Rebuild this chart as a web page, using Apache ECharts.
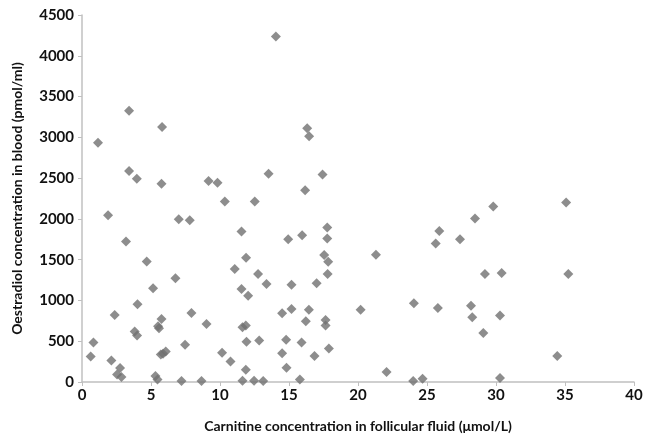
<!DOCTYPE html>
<html>
<head>
<meta charset="utf-8">
<script src="https://cdn.jsdelivr.net/npm/echarts@6/dist/echarts.min.js"></script>
<style>
  html, body { margin: 0; padding: 0; background: #fff; }
  #main { width: 646px; height: 438px; }
</style>
</head>
<body>
<div id="main"></div>
<script>
// carnitine in follicular fluid (umol/L)
var carnitine = [
  1.16, 3.41, 5.80, 3.41, 3.97, 5.76, 9.17, 9.82, 10.35, 12.52,
  14.05, 16.32, 16.46, 13.52, 17.43, 16.17,
  1.89, 7.01, 7.81, 3.19, 11.56, 4.69, 11.89, 11.07, 12.76, 6.77,
  5.15, 11.56, 12.04, 4.02, 2.37, 7.93, 5.76, 9.02, 5.51, 5.58,
  3.82, 3.99, 11.63, 11.87, 12.84, 11.92, 0.83, 7.47, 6.07, 5.87,
  5.71, 0.63, 10.15, 2.13, 10.76, 2.76, 2.54, 2.86, 5.32, 5.47,
  11.87, 7.21, 8.66, 11.63, 12.47,
  17.77, 15.95, 14.94, 17.77, 21.30, 17.55, 17.84, 17.80, 13.37, 15.18,
  17.00, 15.18, 16.44, 14.50, 20.19, 24.05, 25.79, 16.22, 17.65, 17.65,
  14.79, 15.91, 17.89, 14.50, 16.85, 14.82, 22.07, 13.13, 15.79, 24.00,
  24.68, 25.89, 25.63,
  35.08, 29.80, 28.48, 27.39, 29.20, 30.41, 35.24, 28.19, 28.28, 30.29,
  29.08, 34.44, 30.29
];
// oestradiol in blood (pmol/ml)
var oestradiol = [
  2933, 3327, 3128, 2586, 2493, 2432, 2464, 2444, 2212, 2212,
  4235, 3111, 3013, 2554, 2545, 2350,
  2044, 1996, 1984, 1723, 1845, 1479, 1523, 1385, 1323, 1271,
  1149, 1140, 1058, 953, 822, 847, 774, 712, 684, 660,
  618, 569, 672, 692, 508, 492, 484, 456, 374, 346,
  337, 313, 358, 264, 252, 171, 93, 61, 73, 32,
  150, 12, 12, 16, 16,
  1894, 1800, 1751, 1760, 1559, 1556, 1474, 1323, 1201, 1193,
  1210, 896, 887, 843, 887, 965, 908, 745, 761, 692,
  517, 484, 411, 354, 318, 175, 122, 12, 32, 12,
  40, 1853, 1699,
  2200, 2151, 2004, 1751, 1323, 1336, 1323, 936, 794, 814,
  602, 318, 49
];

var points = carnitine.map(function (x, i) { return [x, oestradiol[i]]; });

var chart = echarts.init(document.getElementById('main'));
var labelStyle = {
  color: '#111',
  fontFamily: 'Lato',
  fontWeight: 'bold',
  fontSize: 15
};
var titleStyle = { color: '#111', fontFamily: 'Lato', fontWeight: 'bold', fontSize: 14 };
chart.setOption({
  animation: false,
  grid: { left: 82, right: 12, top: 15, bottom: 55 },
  xAxis: {
    type: 'value',
    min: 0,
    max: 40,
    interval: 5,
    name: 'Carnitine concentration in follicular fluid (μmol/L)',
    nameLocation: 'middle',
    nameGap: 37,
    nameTextStyle: titleStyle,
    axisLine: { show: true, lineStyle: { color: '#c0c0c0', width: 1.5 } },
    axisTick: { show: true, length: 4, lineStyle: { color: '#c0c0c0' } },
    axisLabel: Object.assign({ margin: 6 }, labelStyle),
    splitLine: { show: false }
  },
  yAxis: {
    type: 'value',
    min: 0,
    max: 4500,
    interval: 500,
    name: 'Oestradiol concentration in blood (pmol/ml)',
    nameLocation: 'middle',
    nameGap: 58,
    nameTextStyle: titleStyle,
    axisLine: { show: true, lineStyle: { color: '#c0c0c0', width: 1.5 } },
    axisTick: { show: true, length: 4, lineStyle: { color: '#c0c0c0' } },
    axisLabel: Object.assign({ margin: 8, formatter: function (v) { return String(v); } }, labelStyle),
    splitLine: { show: false }
  },
  series: [{
    type: 'scatter',
    symbol: 'diamond',
    symbolSize: 10,
    itemStyle: { color: '#707070' },
    data: points
  }]
});
</script>
</body>
</html>
